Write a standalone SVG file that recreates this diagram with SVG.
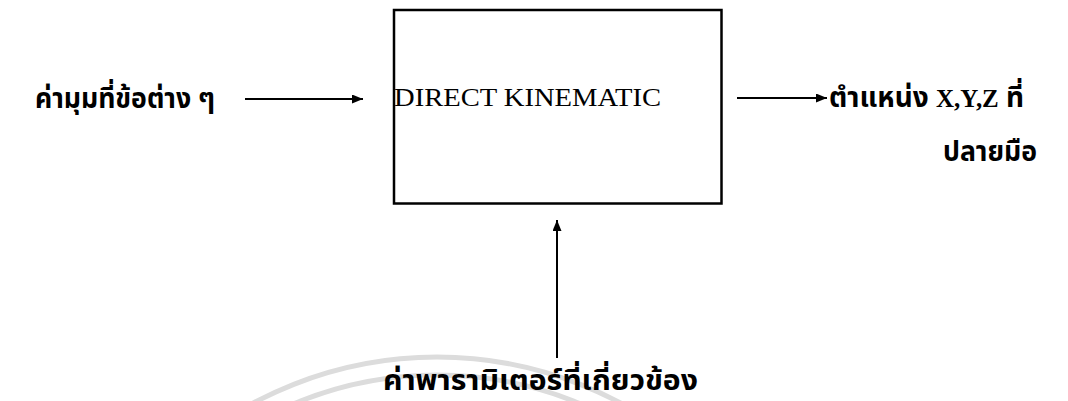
<svg xmlns="http://www.w3.org/2000/svg" width="1068" height="401" viewBox="0 0 1068 401">
  <style>
    .th { font-family: "Noto Sans Thai", "Noto Sans", "DejaVu Sans", sans-serif; font-weight: bold; font-size: 28px; fill: #000; }
    .ser { font-family: "Liberation Serif", serif; font-weight: bold; font-size: 25px; }
    .en { font-family: "Liberation Serif", serif; font-size: 25px; fill: #000; }
    .box { fill: none; stroke: #000; stroke-width: 2.5; }
    .conn { stroke: #000; stroke-width: 2; fill: none; }
    .wm { fill: none; stroke: #dcdcdc; stroke-width: 5; }
  </style>
  <defs>
    <marker id="arrow" viewBox="0 0 11 9" refX="11" refY="4.5" markerWidth="11" markerHeight="9" markerUnits="userSpaceOnUse" orient="auto">
      <path d="M0,0 L11,4.5 L0,9 Z" fill="#000"/>
    </marker>
  </defs>
  <rect width="1068" height="401" fill="#fff"/>
  <g id="watermark">
    <circle class="wm" cx="437" cy="746" r="389"/>
    <circle class="wm" cx="437" cy="746" r="371"/>
  </g>
  <g id="connectors">
    <line class="conn" x1="245" y1="99" x2="363" y2="99" marker-end="url(#arrow)"/>
    <line class="conn" x1="737" y1="98" x2="827" y2="98" marker-end="url(#arrow)"/>
    <line class="conn" x1="557" y1="358" x2="557" y2="220" marker-end="url(#arrow)"/>
  </g>
  <g id="input-angles">
    <text class="th" x="35" y="108" textLength="180" lengthAdjust="spacingAndGlyphs">ค่ามุมที่ข้อต่าง ๆ</text>
  </g>
  <g id="direct-kinematic">
    <rect class="box" x="394" y="10" width="327.5" height="193.5"/>
    <text class="en" x="394" y="106" textLength="267" lengthAdjust="spacingAndGlyphs">DIRECT KINEMATIC</text>
  </g>
  <g id="output-position">
    <text class="th" x="829" y="107" textLength="195" lengthAdjust="spacingAndGlyphs">ตำแหน่ง <tspan class="ser">X,Y,Z</tspan> ที่</text>
    <text class="th" x="943" y="161" textLength="94" lengthAdjust="spacingAndGlyphs">ปลายมือ</text>
  </g>
  <g id="parameters">
    <text class="th" x="383" y="390" textLength="315" lengthAdjust="spacingAndGlyphs">ค่าพารามิเตอร์ที่เกี่ยวข้อง</text>
  </g>
</svg>
